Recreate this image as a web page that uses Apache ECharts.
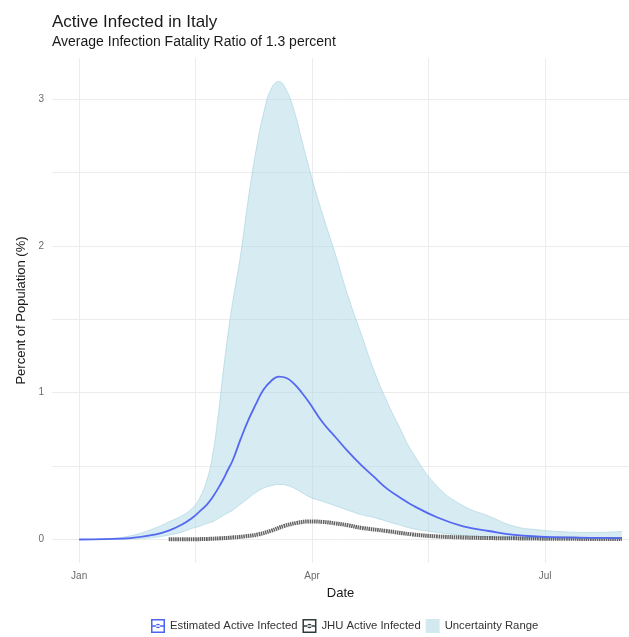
<!DOCTYPE html>
<html>
<head>
<meta charset="utf-8">
<script src="https://cdn.jsdelivr.net/npm/echarts@6/dist/echarts.min.js"></script>
<style>
  html, body { margin: 0; padding: 0; background: #fff; }
  #chart { width: 629px; height: 637px; }
</style>
</head>
<body>
<div id="chart"></div>
<script>
// x values are days since 1 Jan 2020
const days = [0, 10, 20, 30, 35, 40, 44, 47, 50, 52, 54, 56, 58, 60, 63, 66, 69, 72, 75, 78, 81, 84, 87, 90, 95, 100, 105, 110, 115, 120, 125, 130, 140, 150, 160, 170, 180, 190, 200, 212]
const estimated = [0, 0.003, 0.01, 0.035, 0.06, 0.1, 0.145, 0.19, 0.24, 0.285, 0.34, 0.4, 0.47, 0.54, 0.68, 0.81, 0.92, 1.02, 1.08, 1.11, 1.1, 1.06, 1.0, 0.93, 0.8, 0.7, 0.6, 0.51, 0.43, 0.35, 0.29, 0.235, 0.15, 0.09, 0.058, 0.031, 0.02, 0.014, 0.011, 0.01]
const upper = [0, 0.005, 0.025, 0.08, 0.12, 0.16, 0.21, 0.28, 0.41, 0.56, 0.8, 1.1, 1.38, 1.62, 1.93, 2.31, 2.64, 2.9, 3.07, 3.12, 3.06, 2.92, 2.72, 2.52, 2.22, 1.95, 1.66, 1.41, 1.16, 0.95, 0.77, 0.6, 0.36, 0.23, 0.16, 0.09, 0.065, 0.052, 0.048, 0.055]
const lower = [0, 0.001, 0.004, 0.015, 0.03, 0.05, 0.075, 0.09, 0.11, 0.12, 0.14, 0.16, 0.18, 0.2, 0.24, 0.28, 0.32, 0.35, 0.367, 0.375, 0.37, 0.35, 0.32, 0.29, 0.26, 0.23, 0.2, 0.17, 0.15, 0.125, 0.1, 0.075, 0.048, 0.028, 0.016, 0.011, 0.009, 0.008, 0.008, 0.008]

const jhuDays = [35, 40, 45, 50, 55, 60, 65, 70, 75, 80, 85, 90, 95, 100, 105, 110, 120, 130, 140, 150, 160, 170, 180, 190, 200, 212]
const jhuActive = [0.001, 0.001, 0.002, 0.004, 0.008, 0.014, 0.022, 0.035, 0.06, 0.092, 0.113, 0.123, 0.12, 0.11, 0.097, 0.08, 0.058, 0.035, 0.021, 0.014, 0.01, 0.008, 0.006, 0.005, 0.004, 0.004]

const monthDays = [0, 91, 182]
const monthLabels = ['Jan', 'Apr', 'Jul']
const gridDays = [0, 45.5, 91, 136.5, 182]
const yLabels = [0, 1, 2, 3]
const yGrid = [0, 0.5, 1, 1.5, 2, 2.5, 3]

const DAY = 86400000
const START = Date.UTC(2020, 0, 1)
const ts = d => START + d * DAY
const pair = (xs, ys) => xs.map((x, i) => [ts(x), ys[i]])
const bandWidth = upper.map((u, i) => u - lower[i])

const X_MIN = -10.6
const X_MAX = 214.8
const SMOOTH = 0.45

const FONT = '"Liberation Sans", Arial, sans-serif'
const keyIcon = 'path://M0,0H14V14H0Z M1.5,1.5V12.5H12.5V1.5Z M1.5,6.3H12.5V7.7H1.5Z M4.8,7A2.2,2.2 0 1 0 9.2,7A2.2,2.2 0 1 0 4.8,7Z'

const chart = echarts.init(document.getElementById('chart'))

chart.setOption({
  animation: false,
  backgroundColor: '#fff',
  textStyle: { fontFamily: FONT },
  title: {
    text: 'Active Infected in Italy',
    subtext: 'Average Infection Fatality Ratio of 1.3 percent',
    left: 47,
    top: 9,
    itemGap: 4,
    textStyle: { fontSize: 17, fontWeight: 'normal', color: '#1a1a1a', fontFamily: FONT },
    subtextStyle: { fontSize: 14, color: '#1a1a1a', fontFamily: FONT }
  },
  legend: {
    bottom: -1,
    left: 146,
    itemWidth: 14,
    itemHeight: 14,
    itemGap: 5,
    textStyle: { fontSize: 11.3, color: '#333' },
    data: [
      { name: 'Estimated Active Infected', icon: keyIcon },
      { name: 'JHU Active Infected', icon: keyIcon },
      { name: 'Uncertainty Range', icon: 'rect' }
    ]
  },
  grid: {
    left: 52,
    right: 0,
    top: 58,
    bottom: 74
  },
  xAxis: [
    {
      // data axis (time, so the band stacks on y)
      type: 'time',
      position: 'bottom',
      min: ts(X_MIN),
      max: ts(X_MAX),
      axisLine: { show: false },
      axisTick: { show: false },
      axisLabel: { show: false },
      splitLine: { show: false }
    },
    {
      // grid + labels, in days since 1 Jan
      type: 'value',
      position: 'bottom',
      min: X_MIN,
      max: X_MAX,
      name: 'Date',
      nameLocation: 'middle',
      nameGap: 24,
      nameTextStyle: { fontSize: 13, color: '#1a1a1a' },
      axisLine: { show: false },
      axisTick: { show: false, customValues: gridDays },
      axisLabel: {
        customValues: monthDays,
        formatter: v => monthLabels[monthDays.indexOf(v)] || '',
        color: '#6b6b6b',
        fontSize: 10,
        margin: 8
      },
      splitLine: { show: true, lineStyle: { color: '#ececec', width: 1 } }
    }
  ],
  yAxis: {
    type: 'value',
    min: -0.16,
    max: 3.28,
    name: 'Percent of Population (%)',
    nameLocation: 'middle',
    nameGap: 24,
    nameTextStyle: { fontSize: 13, color: '#1a1a1a' },
    axisLine: { show: false },
    axisTick: { show: false, customValues: yGrid },
    axisLabel: {
      customValues: yLabels,
      color: '#6b6b6b',
      fontSize: 10,
      margin: 8
    },
    splitLine: { show: true, lineStyle: { color: '#ececec', width: 1 } }
  },
  series: [
    {
      name: 'band-lower',
      type: 'line',
      stack: 'band',
      data: pair(days, lower),
      smooth: SMOOTH,
      symbol: 'none',
      lineStyle: { color: 'rgba(150,200,218,0.6)', width: 0.8 },
      silent: true
    },
    {
      name: 'Uncertainty Range',
      type: 'line',
      stack: 'band',
      data: pair(days, bandWidth),
      smooth: SMOOTH,
      symbol: 'none',
      lineStyle: { color: 'rgba(150,200,218,0.6)', width: 0.8 },
      itemStyle: { color: '#d3e9f0', borderColor: '#c2e0ea' },
      areaStyle: { color: 'rgba(173,216,230,0.5)', opacity: 1 }
    },
    {
      name: 'JHU Active Infected',
      type: 'line',
      data: pair(jhuDays, jhuActive),
      smooth: SMOOTH,
      symbol: 'none',
      itemStyle: { color: '#2f3b3b' },
      lineStyle: { color: 'rgba(70,70,70,0.85)', width: 4, type: [1.5, 0.7] }
    },
    {
      name: 'Estimated Active Infected',
      type: 'line',
      data: pair(days, estimated),
      smooth: SMOOTH,
      symbol: 'none',
      itemStyle: { color: '#4a63f2' },
      lineStyle: { color: '#5468f2', width: 1.8 }
    }
  ]
})
</script>
</body>
</html>
